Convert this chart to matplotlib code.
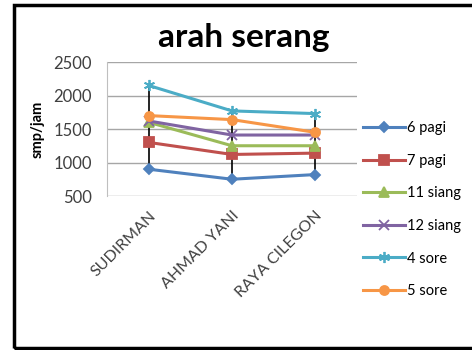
import numpy as np
import matplotlib.pyplot as plt
from matplotlib.patches import Rectangle

plt.rcParams['font.family'] = ['Lato', 'DejaVu Sans']

lokasi = ['SUDIRMAN', 'AHMAD YANI', 'RAYA CILEGON']
jam = ['6 pagi', '7 pagi', '11 siang', '12 siang', '4 sore', '5 sore']
pagi6 = [900, 750, 820]
pagi7 = [1300, 1120, 1140]
siang11 = [1600, 1250, 1250]
siang12 = [1620, 1410, 1410]
sore4 = [2150, 1770, 1730]
sore5 = [1700, 1640, 1450]

data = [pagi6, pagi7, siang11, siang12, sore4, sore5]
warna = ['#4F81BD', '#C0504D', '#9BBB59', '#8064A2', '#4BACC6', '#F79646']
marker = ['D', 's', '^', 'x', (6, 2, 0), 'o']
ukuran = [5.5, 6.5, 6.5, 7, 8, 6.5]

fig = plt.figure(figsize=(4.72, 3.5), dpi=100)
ax = fig.add_axes([107/472, 1-196/350, 250/472, 134/350])

x = np.arange(len(lokasi))
arr = np.array(data)
# garis high-low
ax.vlines(x, arr.min(axis=0), arr.max(axis=0), color='black', lw=1.2, zorder=3)

for y, c, m, ms, lbl in zip(data, warna, marker, ukuran, jam):
    ax.plot(x, y, color=c, lw=2.2, marker=m, ms=ms, mew=1.3, mec=c, label=lbl, zorder=4)

ax.set_ylim(500, 2500)
ax.set_yticks([500, 1000, 1500, 2000, 2500])
ax.set_xlim(-0.5, 2.5)
ax.set_xticks(x)
ax.set_xticklabels(lokasi, rotation=45, ha='right', rotation_mode='anchor', fontsize=11.5)
ax.tick_params(axis='y', labelsize=12, length=0, pad=11, labelcolor='#404040')
ax.tick_params(axis='x', length=0, pad=9, labelcolor='#404040')
ax.grid(axis='y', color='#A6A6A6', lw=1)
ax.set_axisbelow(True)
for s in ['top', 'right', 'bottom']:
    ax.spines[s].set_visible(False)
ax.spines['left'].set_color('#BFBFBF')
ax.set_ylabel('smp/jam', fontsize=10.5, fontweight='bold', labelpad=6)

fig.text(244/472, 1-37/350, 'arah serang', ha='center', va='center',
         fontsize=24, fontweight='bold')

ax.legend(loc='upper left', bbox_to_anchor=(1.0, 0.6), frameon=False,
          fontsize=10.5, handlelength=2.9, handletextpad=0.1, labelspacing=1.27,
          borderaxespad=0)

fig.patches.append(Rectangle((14/472, 2/350), 1.0, 343/350, transform=fig.transFigure,
                             fill=False, ec='black', lw=2.5))

fig.savefig('out.png', dpi=100)
